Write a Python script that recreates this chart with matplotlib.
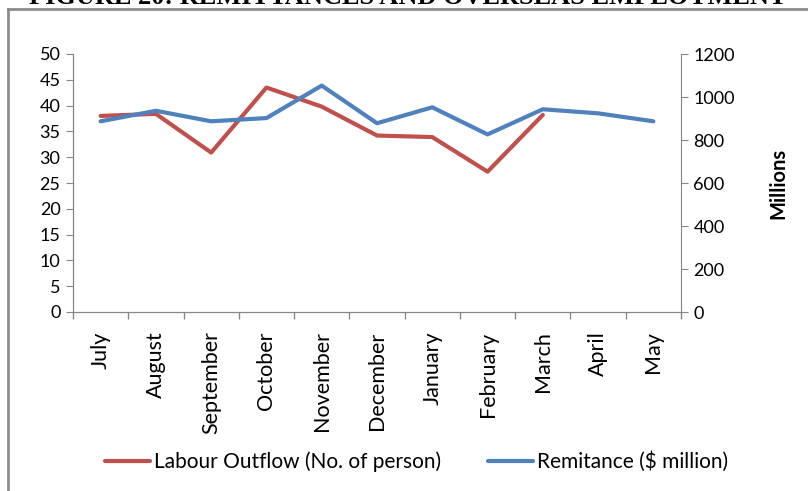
import matplotlib.pyplot as plt
from matplotlib.lines import Line2D

months = ['July', 'August', 'September', 'October', 'November', 'December',
          'January', 'February', 'March', 'April', 'May']
labour_outflow = [38.0, 38.4, 30.9, 43.5, 39.8, 34.2, 33.9, 27.2, 38.2]
remittance = [887, 936, 887, 902, 1053, 878, 952, 826, 943, 924, 887]

plt.rcParams['font.family'] = ['Lato', 'DejaVu Sans']

fig = plt.figure(figsize=(8.08, 4.91), dpi=100)
ax = fig.add_axes([73 / 808, 1 - 312 / 491, 608 / 808, 258 / 491])
ax2 = ax.twinx()

red = '#C0504D'
blue = '#4F81BD'
grey = '#868686'

x = list(range(len(months)))
l1, = ax.plot(x[:len(labour_outflow)], labour_outflow, color=red, lw=3,
              solid_capstyle='round', label='Labour Outflow (No. of person)')
l2, = ax2.plot(x, remittance, color=blue, lw=3, solid_capstyle='round',
               label='Remitance ($ million)')

ax.set_xlim(-0.5, len(months) - 0.5)
ax.set_ylim(0, 50)
ax.set_yticks(range(0, 51, 5))
ax2.set_ylim(0, 1200)
ax2.set_yticks(range(0, 1201, 200))

# category boundaries get the tick marks, labels sit at the centres
ax.set_xticks([i - 0.5 for i in range(len(months) + 1)])
ax.set_xticklabels([])
ax.set_xticks(x, minor=True)
ax.set_xticklabels(months, minor=True, rotation=90, fontsize=15.5)
ax.tick_params(axis='x', which='minor', length=0, pad=14)
ax.tick_params(axis='x', which='major', length=5, color=grey, width=1)
ax.tick_params(axis='y', length=5, color=grey, labelsize=13, pad=4)
ax2.tick_params(axis='y', length=5, color=grey, labelsize=13, pad=4)

for a in (ax, ax2):
    a.spines['top'].set_visible(False)
    for s in ('left', 'right', 'bottom'):
        a.spines[s].set_color(grey)
ax.spines['right'].set_visible(False)

ax2.set_ylabel('Millions', fontsize=14.5, fontweight='bold', labelpad=24)

fig.legend(handles=[l1, l2], loc='center', bbox_to_anchor=(0.515, 1 - 462 / 491),
           ncol=2, frameon=False, fontsize=15, handlelength=2.2,
           handletextpad=0.15, columnspacing=2.25)

# outer frame of the chart box
fig.add_artist(Line2D([8 / 808, 1], [1 - 9 / 491, 1 - 9 / 491],
                      transform=fig.transFigure, color='#8c8c8c', lw=2))
fig.add_artist(Line2D([8 / 808, 8 / 808], [0, 1 - 9 / 491],
                      transform=fig.transFigure, color='#8c8c8c', lw=2))

fig.text(0.505, 1 - 3.5 / 491, 'FIGURE 20: REMITTANCES AND OVERSEAS EMPLOYMENT',
         ha='center', va='baseline', fontsize=19, fontweight='bold',
         family='Liberation Serif')

fig.savefig('out.png', dpi=100)
